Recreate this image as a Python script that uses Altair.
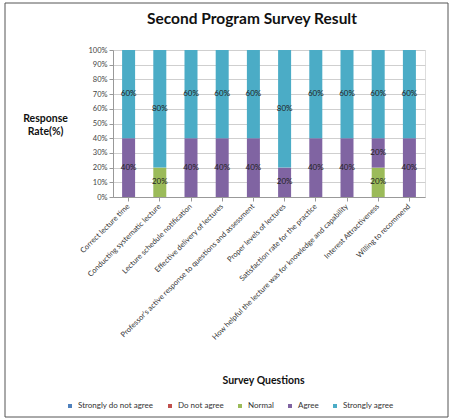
import altair as alt
import pandas as pd

questions = [
    "Correct lecture time",
    "Conducting systematic lecture",
    "Lecture schedule notification",
    "Effective delivery of lectures",
    "Professor's active response to questions and assessment",
    "Proper levels of lectures",
    "Satisfaction rate for the practice",
    "How helpful the lecture was for knowledge and capability",
    "Interest Attractiveness",
    "Willing to recommend",
]
categories = ["Strongly do not agree", "Do not agree", "Normal", "Agree", "Strongly agree"]
colors = ["#4F81BD", "#C0504D", "#9BBB59", "#8064A2", "#4BACC6"]

strongly_do_not_agree = [0, 0, 0, 0, 0, 0, 0, 0, 0, 0]
do_not_agree = [0, 0, 0, 0, 0, 0, 0, 0, 0, 0]
normal = [0, 20, 0, 0, 0, 0, 0, 0, 20, 0]
agree = [40, 0, 40, 40, 40, 20, 40, 40, 20, 40]
strongly_agree = [60, 80, 60, 60, 60, 80, 60, 60, 60, 60]
y_ticks = [0, 10, 20, 30, 40, 50, 60, 70, 80, 90, 100]

series = [strongly_do_not_agree, do_not_agree, normal, agree, strongly_agree]
rows = []
for ci, (cat, vals) in enumerate(zip(categories, series)):
    for q, v in zip(questions, vals):
        if v > 0:
            rows.append({"question": q, "category": cat, "value": v, "order": ci,
                         "label": f"{v}%"})
df = pd.DataFrame(rows)

FONT = "Lato"

x_axis = alt.Axis(title="Survey Questions", labelAngle=-45, labelAlign="right",
                  labelBaseline="middle", labelFontSize=7.5, labelColor="#333",
                  labelLimit=400, labelPadding=4, labelFont=FONT,
                  titleFont=FONT, titleFontSize=10.5, titleFontWeight="bold",
                  titleColor="#111", titleY=183, titleX=150,
                  titleBaseline="middle", titleAnchor="start", titleAlign="center",
                  domainColor="#999", tickColor="#999", tickSize=4, grid=False)
y_axis = alt.Axis(values=y_ticks, labelExpr="datum.value + '%'", labelOverlap=False,
                  tickCount=11,
                  title=["Response", "Rate(%)"], titleAngle=0,
                  titleX=-68, titleY=68, titleAlign="center", titleBaseline="middle",
                  titleFont=FONT, titleFontSize=10.5, titleFontWeight="bold",
                  titleColor="#111", titleLineHeight=13,
                  labelFontSize=7.5, labelColor="#444", labelFont=FONT,
                  domainColor="#999", tickColor="#999", tickSize=4,
                  gridColor="#cfcfcf")
x_scale = alt.Scale(paddingInner=0.58, paddingOuter=0.29)
y_scale = alt.Scale(domain=[0, 100], nice=False)

bars = alt.Chart(df).mark_bar(size=13).encode(
    x=alt.X("question:N", sort=questions, scale=x_scale, axis=x_axis),
    y=alt.Y("value:Q", stack="zero", scale=y_scale, axis=y_axis),
    color=alt.Color("category:N", scale=alt.Scale(domain=categories, range=colors),
                    legend=alt.Legend(title=None, orient="none", direction="horizontal",
                                      legendX=-47, legendY=352, symbolType="square",
                                      symbolSize=16, labelFontSize=8, labelFont=FONT,
                                      labelColor="#333", columnPadding=12, symbolStrokeWidth=0)),
    order=alt.Order("order:Q"),
)

texts = alt.Chart(df).mark_text(fontSize=8, color="#222", font=FONT).transform_stack(
    stack="value", groupby=["question"], as_=["v0", "v1"],
    sort=[alt.SortField("order", "ascending")]
).transform_calculate(mid="(datum.v0 + datum.v1) / 2").encode(
    x=alt.X("question:N", sort=questions, scale=x_scale, axis=x_axis),
    y=alt.Y("mid:Q", scale=y_scale, axis=y_axis),
    text="label:N",
)

border = alt.Chart(pd.DataFrame({"b": [1]})).mark_rect(
    fill=None, stroke="#555", strokeWidth=1).encode(
    x=alt.value(-108), x2=alt.value(335), y=alt.value(-47), y2=alt.value(367))

chart = alt.layer(bars, texts, border).properties(
    width=312, height=147,
    title=alt.TitleParams("Second Program Survey Result", font=FONT, fontSize=15.5,
                          fontWeight="bold", color="#111", anchor="middle", dx=-17,
                          offset=-25),
    autosize=alt.AutoSizeParams(type="none"),
    padding={"left": 113, "top": 50, "right": 28, "bottom": 222},
).configure_view(stroke=None).configure(background="white")

chart.save("out.html", embed_options={"renderer": "svg", "actions": False})
